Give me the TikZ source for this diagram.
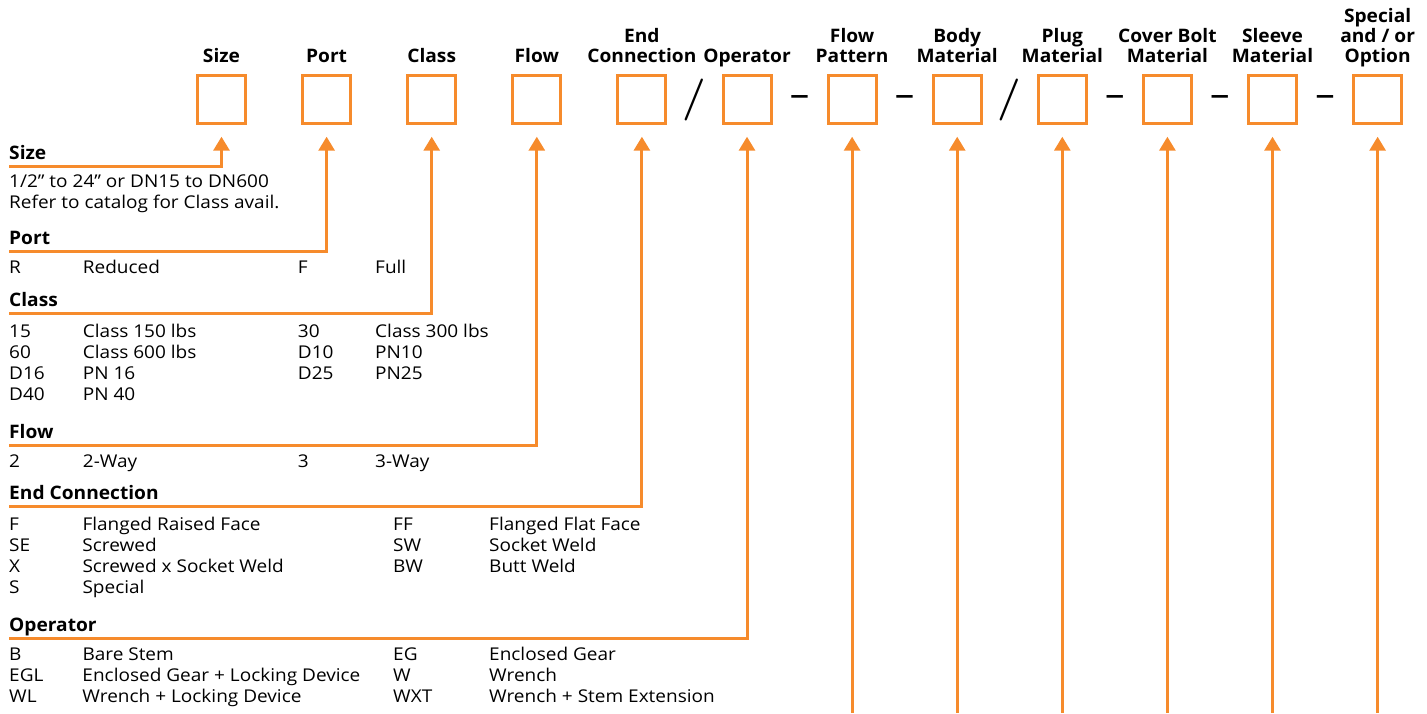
\documentclass[tikz,border=0pt]{standalone}
\usepackage{fontspec}
\setmainfont{Open Sans}[FakeStretch=1.08]
\newfontfamily\headfont{Open Sans}[FakeStretch=1.03]
\newfontfamily\slashfont{Latin Modern Roman}
\usetikzlibrary{arrows.meta, positioning, calc}
\definecolor{codeorange}{RGB}{246,139,44}
\tikzset{
  slot/.style     = {draw=codeorange, line width=3pt, minimum size=48pt,
                     inner sep=0pt, outer sep=0pt},
  hdr/.style      = {font=\fontsize{18.6}{20}\headfont\bfseries, align=center,
                     inner sep=0pt, text depth=0pt},
  sect/.style     = {font=\fontsize{18.6}{20}\headfont\bfseries, anchor=base west,
                     inner sep=0pt},
  legtab/.style   = {font=\fontsize{17.6}{21.3}\selectfont, anchor=base west,
                     inner sep=0pt},
  lead/.style     = {draw=codeorange, line width=3pt,
                     -{Triangle[length=14pt, width=16pt]}},
  sepslash/.style = {font=\fontsize{42}{42}\slashfont\bfseries, inner sep=0pt, yshift=-1pt},
  sepdash/.style  = {font=\fontsize{36}{36}\selectfont, inner sep=0pt, yshift=-2pt},
}
\newcommand\gapped[1]{([yshift=-13.5pt]#1.south)}

\begin{document}
\begin{tikzpicture}[x=1pt, y=-1pt, node distance=57.1pt]
  \useasboundingbox (0,0) rectangle (1427,713);

  \node[slot] (size) at (221.5,99.2) {};
  \node[slot, right=of size]    (port)    {};
  \node[slot, right=of port]    (class)   {};
  \node[slot, right=of class]   (flow)    {};
  \node[slot, right=of flow]    (endc)    {};
  \node[slot, right=of endc]    (oper)    {};
  \node[slot, right=of oper]    (pattern) {};
  \node[slot, right=of pattern] (body)    {};
  \node[slot, right=of body]    (plug)    {};
  \node[slot, right=of plug]    (bolt)    {};
  \node[slot, right=of bolt]    (sleeve)  {};
  \node[slot, right=of sleeve]  (option)  {};

  \node[hdr, above=13pt of size]    (tSize)    {Size};
  \node[hdr, above=13pt of port]    (tPort)    {Port};
  \node[hdr, above=13pt of class]   (tClass)   {Class};
  \node[hdr, above=13pt of flow]    (tFlow)    {Flow};
  \node[hdr, above=13pt of endc]    (tEndc)    {End\\Connection};
  \node[hdr, above=13pt of oper]    (tOper)    {Operator};
  \node[hdr, above=13pt of pattern] (tPattern) {Flow\\Pattern};
  \node[hdr, above=13pt of body]    (tBody)    {Body\\Material};
  \node[hdr, above=13pt of plug]    (tPlug)    {Plug\\Material};
  \node[hdr, above=13pt of bolt]    (tBolt)    {Cover Bolt\\Material};
  \node[hdr, above=13pt of sleeve]  (tSleeve)  {Sleeve\\Material};
  \node[hdr, above=13pt of option]  (tOption)  {Special\\and / or\\Option};

  \node[sepslash] (sp1) at ($(endc.east)!0.5!(oper.west)$)    {/};
  \node[sepdash]  (sp2) at ($(oper.east)!0.5!(pattern.west)$) {–};
  \node[sepdash]  (sp3) at ($(pattern.east)!0.5!(body.west)$) {–};
  \node[sepslash] (sp4) at ($(body.east)!0.5!(plug.west)$)    {/};
  \node[sepdash]  (sp5) at ($(plug.east)!0.5!(bolt.west)$)    {–};
  \node[sepdash]  (sp6) at ($(bolt.east)!0.5!(sleeve.west)$)  {–};
  \node[sepdash]  (sp7) at ($(sleeve.east)!0.5!(option.west)$) {–};

  % legend on the left
  \node[sect] (sSize) at (9,159) {Size};
  \node[legtab] (vSize) at (9,187) {\begin{tabular}[t]{@{}l@{}}
    1/2” to 24” or DN15 to DN600\\ Refer to catalog for Class avail.\end{tabular}};
  \node[sect] (sPort) at (9,244) {Port};
  \node[legtab] (vPort) at (9,273) {\begin{tabular}[t]{@{}p{73.7pt}@{}p{215pt}@{}p{77.3pt}@{}l@{}}
    R & Reduced & F & Full\end{tabular}};
  \node[sect] (sClass) at (9,306.5) {Class};
  \node[legtab] (vClass) at (9,337) {\begin{tabular}[t]{@{}p{73.7pt}@{}p{215pt}@{}p{77.3pt}@{}l@{}}
    15  & Class 150 lbs & 30  & Class 300 lbs\\
    60  & Class 600 lbs & D10 & PN10\\
    D16 & PN 16         & D25 & PN25\\
    D40 & PN 40         &     & \end{tabular}};
  \node[sect] (sFlow) at (9,438.5) {Flow};
  \node[legtab] (vFlow) at (9,467.5) {\begin{tabular}[t]{@{}p{73.7pt}@{}p{215pt}@{}p{77.3pt}@{}l@{}}
    2 & 2-Way & 3 & 3-Way\end{tabular}};
  \node[sect] (sEndc) at (9,499) {End Connection};
  \node[legtab] (vEndc) at (9,530) {\begin{tabular}[t]{@{}p{73.3pt}@{}p{310.7pt}@{}p{96pt}@{}l@{}}
    F  & Flanged Raised Face     & FF & Flanged Flat Face\\
    SE & Screwed                 & SW & Socket Weld\\
    X  & Screwed x Socket Weld   & BW & Butt Weld\\
    S  & Special                 &    & \end{tabular}};
  \node[sect] (sOper) at (9,631) {Operator};
  \node[legtab] (vOper) at (9,660) {\begin{tabular}[t]{@{}p{73.3pt}@{}p{310.7pt}@{}p{96pt}@{}l@{}}
    B   & Bare Stem                       & EG  & Enclosed Gear\\
    EGL & Enclosed Gear + Locking Device  & W   & Wrench\\
    WL  & Wrench + Locking Device         & WXT & Wrench + Stem Extension\end{tabular}};

  \coordinate (lSize)  at (9,166);
  \coordinate (lPort)  at (9,251);
  \coordinate (lClass) at (9,313.5);
  \coordinate (lFlow)  at (9,445.5);
  \coordinate (lEndc)  at (9,506);
  \coordinate (lOper)  at (9,638);
  \coordinate (bot)    at (0,713);

  \draw[lead] (lSize)  -| \gapped{size};
  \draw[lead] (lPort)  -| \gapped{port};
  \draw[lead] (lClass) -| \gapped{class};
  \draw[lead] (lFlow)  -| \gapped{flow};
  \draw[lead] (lEndc)  -| \gapped{endc};
  \draw[lead] (lOper)  -| \gapped{oper};
  \draw[lead] (pattern.south |- bot) -- \gapped{pattern};
  \draw[lead] (body.south |- bot)    -- \gapped{body};
  \draw[lead] (plug.south |- bot)    -- \gapped{plug};
  \draw[lead] (bolt.south |- bot)    -- \gapped{bolt};
  \draw[lead] (sleeve.south |- bot)  -- \gapped{sleeve};
  \draw[lead] (option.south |- bot)  -- \gapped{option};
\end{tikzpicture}
\end{document}
